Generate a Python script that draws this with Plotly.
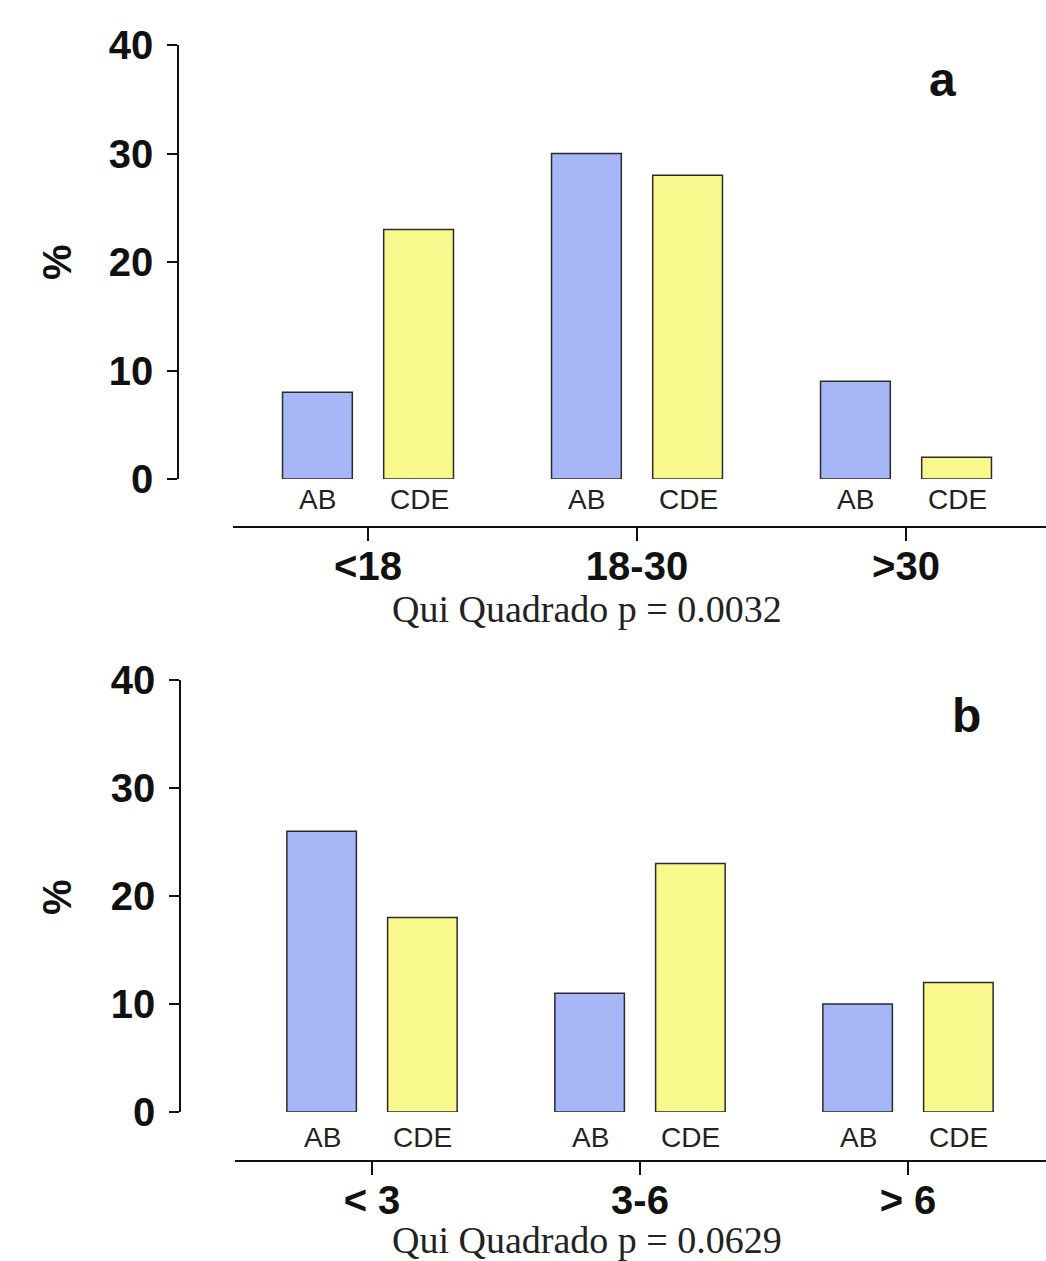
import plotly.graph_objects as go

# ---- data ----
cats_a = ["<18", "18-30", ">30"]
ab_a = [8, 30, 9]
cde_a = [23, 28, 2]
p_a = "Qui Quadrado p = 0.0032"

cats_b = ["< 3", "3-6", "> 6"]
ab_b = [26, 11, 10]
cde_b = [18, 23, 12]
p_b = "Qui Quadrado p = 0.0629"

group_names = ["AB", "CDE"]
y_ticks = [0, 10, 20, 30, 40]

# ---- styling ----
W, H = 1046, 1261
BLUE = "#a6b6f6"
YELLOW = "#f9f88c"
EDGE = "#2b2b2b"
SANS = "Liberation Sans, Arial, sans-serif"
SERIF = "Liberation Serif, Times New Roman, serif"


def px_x(v):
    return v / W


def px_y(v):
    return 1 - v / H


fig = go.Figure()

panels = [
    dict(cats=cats_a, ab=ab_a, cde=cde_a, p=p_a, letter="a", xa="x", ya="y",
         yaxis_x=178, y40=45, y0=479, xline=527, xl=233, tick0=368, tickstep=269,
         lab_shift=-20, p_y=609, letter_xy=(942, 79), pct_y=262),
    dict(cats=cats_b, ab=ab_b, cde=cde_b, p=p_b, letter="b", xa="x2", ya="y2",
         yaxis_x=180, y40=680, y0=1112, xline=1161, xl=235, tick0=372, tickstep=268,
         lab_shift=-25, p_y=1240, letter_xy=(966, 715), pct_y=897),
]

annotations = []
layout_axes = {}
for i, P in enumerate(panels):
    fig.add_trace(go.Bar(x=P["cats"], y=P["ab"], name=group_names[0], xaxis=P["xa"], yaxis=P["ya"],
                         marker=dict(color=BLUE, line=dict(color=EDGE, width=1.5)), showlegend=False))
    fig.add_trace(go.Bar(x=P["cats"], y=P["cde"], name=group_names[1], xaxis=P["xa"], yaxis=P["ya"],
                         marker=dict(color=YELLOW, line=dict(color=EDGE, width=1.5)), showlegend=False))

    xr0 = (P["xl"] - P["tick0"]) / P["tickstep"]
    xr1 = (W - P["tick0"]) / P["tickstep"]
    xkey = "xaxis" if i == 0 else "xaxis2"
    ykey = "yaxis" if i == 0 else "yaxis2"
    layout_axes[xkey] = dict(
        domain=[px_x(P["xl"]), 1], anchor="free", position=px_y(P["xline"]),
        type="category", range=[xr0, xr1], showline=True, linecolor="#111", linewidth=1.5,
        ticks="outside", ticklen=13, tickwidth=1.5, tickcolor="#111",
        tickfont=dict(family=SANS, size=40, color="#111", weight="bold"),
        ticklabelstandoff=-9, showgrid=False, zeroline=False, fixedrange=True,
    )
    layout_axes[ykey] = dict(
        domain=[px_y(P["y0"]), px_y(P["y40"])], anchor="free", position=px_x(P["yaxis_x"]),
        range=[0, 40], tickvals=y_ticks, showline=True, linecolor="#111", linewidth=1.5,
        ticks="outside", ticklen=10, tickwidth=1.5, tickcolor="#111",
        tickfont=dict(family=SANS, size=40, color="#111", weight="bold"),
        ticklabelstandoff=6, showgrid=False, zeroline=False, fixedrange=True,
    )

    for gi, c in enumerate(P["cats"]):
        for k, (name, off) in enumerate(zip(group_names, [-0.186, 0.19])):
            annotations.append(dict(
                x=gi + off, y=0, xref=P["xa"], yref=P["ya"], text=name, showarrow=False,
                yshift=P["lab_shift"], yanchor="middle", xanchor="center",
                font=dict(family=SANS, size=28, color="#222")))

    annotations.append(dict(x=px_x(587), y=px_y(P["p_y"]), xref="paper", yref="paper", text=P["p"],
                            showarrow=False, xanchor="center", yanchor="middle",
                            font=dict(family=SERIF, size=38, color="#222")))
    annotations.append(dict(x=px_x(P["letter_xy"][0]), y=px_y(P["letter_xy"][1]), xref="paper", yref="paper",
                            text=P["letter"], showarrow=False, xanchor="center", yanchor="middle",
                            font=dict(family=SANS, size=48, color="#111", weight="bold")))
    annotations.append(dict(x=px_x(57), y=px_y(P["pct_y"]), xref="paper", yref="paper", text="%",
                            showarrow=False, textangle=-90, xanchor="center", yanchor="middle",
                            font=dict(family=SANS, size=40, color="#111", weight="bold")))

fig.update_layout(
    width=W, height=H, margin=dict(l=0, r=0, t=0, b=0, autoexpand=False),
    paper_bgcolor="white", plot_bgcolor="white",
    barmode="group", bargap=0.248, bargroupgap=0.31,
    annotations=annotations, showlegend=False,
    **layout_axes,
)

fig.write_html("out.html")
